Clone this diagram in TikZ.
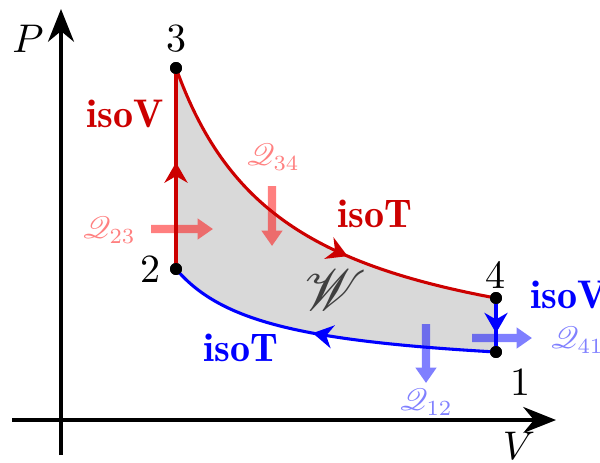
\documentclass[tikz,border=0pt]{standalone}
\usepackage{graphicx}
\usepackage{mathrsfs}
\usetikzlibrary{arrows.meta,decorations.markings}
\definecolor{cred}{RGB}{204,0,0}
\definecolor{cblue}{RGB}{0,0,255}
\definecolor{cgray}{RGB}{217,217,217}
\definecolor{cw}{RGB}{64,64,64}
\newcommand{\bigtxt}[1]{\scalebox{2.074}{#1}}
\newcommand{\qtxt}[1]{\scalebox{1.6}{#1}}
\newcommand{\wtxt}[1]{\scalebox{3.0}{#1}}
\newcommand{\proc}[1]{\scalebox{2.074}{\fontseries{b}\selectfont #1}}
\tikzset{
  axis/.style={line width=1.7pt,-{Stealth[length=17pt,width=13.5pt]}},
  curve/.style={line width=1.6pt},
  arrowat/.style={postaction={decorate},decoration={markings,mark=at position #1 with {\arrow{Stealth[length=10.5pt,width=12pt]}}}},
  heat/.style={line width=4.2pt,-{Triangle[length=8pt,width=10.5pt]}},
  dot/.style={circle,fill=black,inner sep=0pt,minimum size=6.2pt},
  lbl/.style={inner sep=0pt,font=\normalsize}
}
\begin{document}
\begin{tikzpicture}[x=0.5185pt,y=-0.5185pt]
\useasboundingbox (0,0) rectangle (600,462);
% gray area
\fill[cgray] plot[domain=176:496,samples=100] (\x,{378-344.72/((\x-64.8)/100)})
  -- plot[domain=0:1,samples=100] ({496-320*\x},{375.4-95.97/((496-320*\x-85.8)/100)}) -- cycle;
% axes
\coordinate (ybot) at (61,455);
\coordinate (ytop) at (61,9);
\coordinate (xleft) at (12,420);
\coordinate (xright) at (556,420);
\draw[axis] (ybot) -- (ytop);
\draw[axis] (xleft) -- (xright);
\node[lbl] (P) at (28,39) {\bigtxt{$P$}};
\node[lbl] (V) at (519,446) {\bigtxt{$V$}};
% states
\node[dot] (p1) at (496,352) {};
\node[dot] (p2) at (176,269) {};
\node[dot] (p3) at (176,68) {};
\node[dot] (p4) at (496,298) {};
% heat arrows (under)
\coordinate (q23a) at (151,229); \coordinate (q23b) at (213,229);
\coordinate (q34a) at (272,186); \coordinate (q34b) at (272,246);
\coordinate (q12a) at (426,324); \coordinate (q12b) at (426,383);
\coordinate (q41a) at (472,338); \coordinate (q41b) at (532,338);
\begin{scope}[transparency group,opacity=0.5]
\draw[heat,red] (q23a) -- (q23b);
\end{scope}
\begin{scope}[transparency group,opacity=0.5]
\draw[heat,red] (q34a) -- (q34b);
\end{scope}
\begin{scope}[transparency group,opacity=0.5]
\draw[heat,blue] (q12a) -- (q12b);
\end{scope}
\begin{scope}[transparency group,opacity=0.5]
\draw[heat,blue] (q41a) -- (q41b);
\end{scope}
% processes
\draw[curve,cred,arrowat=0.53] (p2.center) -- (p3.center);
\draw[curve,cred,arrowat=0.63] plot[domain=176:496,samples=100] (\x,{378-344.72/((\x-64.8)/100)});
\draw[curve,cblue,arrowat=0.65] (p4.center) -- (p1.center);
\draw[curve,cblue,arrowat=0.546] plot[domain=0:1,samples=100] ({496-320*\x},{375.4-95.97/((496-320*\x-85.8)/100)});
% dots on top
\fill (p1) circle (3.1pt);
\fill (p2) circle (3.1pt);
\fill (p3) circle (3.1pt);
\fill (p4) circle (3.1pt);
% state labels
\node[lbl] (l3) at (176,39) {\bigtxt{3}};
\node[lbl] (l2) at (150.5,269.5) {\bigtxt{2}};
\node[lbl] (l4) at (495.5,275) {\bigtxt{4}};
\node[lbl] (l1) at (520.5,382.5) {\bigtxt{1}};
% process labels
\node[lbl,cred] (isoVr) at (125,114) {\proc{isoV}};
\node[lbl,cred] (isoTr) at (375,214) {\proc{isoT}};
\node[lbl,cblue] (isoTb) at (241,348) {\proc{isoT}};
\node[lbl,cblue,anchor=base west] (isoVb) at (530,308) {\proc{isoV}};
% heat labels
\node[lbl,red!50] (Q23) at (109,230) {\qtxt{$\mathscr{Q}_{23}$}};
\node[lbl,red!50] (Q34) at (273,157) {\qtxt{$\mathscr{Q}_{34}$}};
\node[lbl,blue!50] (Q12) at (426,402) {\qtxt{$\mathscr{Q}_{12}$}};
\node[lbl,blue!50,anchor=west] (Q41) at (550,340) {\qtxt{$\mathscr{Q}_{41}$}};
\node[lbl,cw] (W) at (336,290) {\wtxt{$\mathscr{W}$}};
\end{tikzpicture}
\end{document}
